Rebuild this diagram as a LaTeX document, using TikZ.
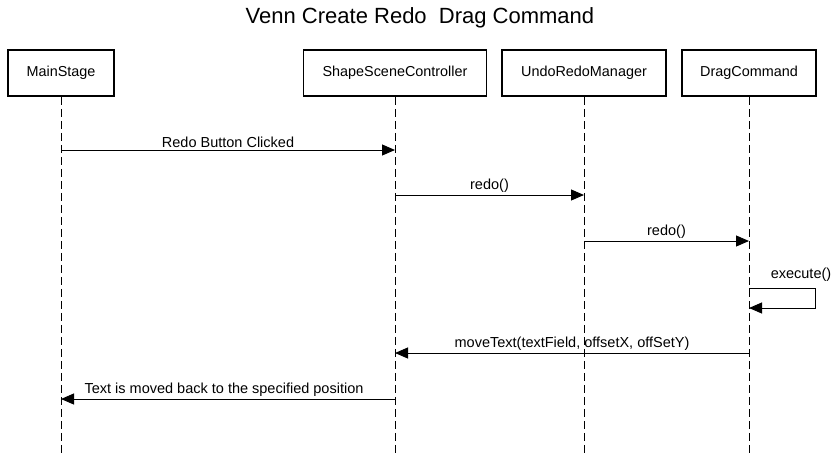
\documentclass[tikz,border=0pt]{standalone}
\usepackage{fontspec}
\setmainfont{Liberation Sans}
\usetikzlibrary{arrows.meta,positioning,calc}

\tikzset{
  actor/.style={draw, line width=1.8pt, minimum height=46pt, inner sep=0pt, font=\fontsize{14.4}{17}\selectfont},
  life/.style={dash pattern=on 8pt off 4pt, line width=0.9pt},
  msg/.style={-{Triangle[length=13pt,width=11pt]}, line width=1pt},
  lbl/.style={font=\fontsize{14.5}{17}\selectfont, above, inner sep=2pt}
}

\begin{document}
\begin{tikzpicture}[x=1pt,y=-1pt]
			\useasboundingbox (0,0) rectangle (840,456);
			\node[font=\fontsize{22}{26}\selectfont] (title) at (420,18) {Venn Create Redo\ \ Drag Command};
			\node[actor, minimum width=106pt] (main) at (61,73) {MainStage};
			\node[actor, minimum width=183pt] (ssc) at (395,73) {ShapeSceneController};
			\node[actor, minimum width=164pt] (urm) at (584,73) {UndoRedoManager};
			\node[actor, minimum width=134pt] (drag) at (749,73) {DragCommand};
			% lifelines
			\foreach \a in {main,ssc,urm,drag}
				\draw[life] (\a.south) -- (\a.south |- 0,456);
			% messages
			\draw[msg] (main |- 0,150) -- node[lbl] {Redo Button Clicked} (ssc |- 0,150);
			\draw[msg] (ssc |- 0,195) -- node[lbl] {redo()} (urm |- 0,195);
			\draw[msg] (urm |- 0,241) -- node[lbl] {redo()} (drag |- 0,241);
			\draw[msg] (drag |- 0,288) -- (815,288) -- (815,308) -- (drag |- 0,308);
			\node[font=\fontsize{14.5}{17}\selectfont] (exec) at (801,275) {execute()};
			\draw[msg] (drag |- 0,353) -- node[lbl] {moveText(textField, offsetX, offSetY)} (ssc |- 0,353);
			\draw[msg] (ssc |- 0,399) -- node[lbl, xshift=-4pt] {Text is moved back to the specified position} (main |- 0,399);
		\end{tikzpicture}
\end{document}
